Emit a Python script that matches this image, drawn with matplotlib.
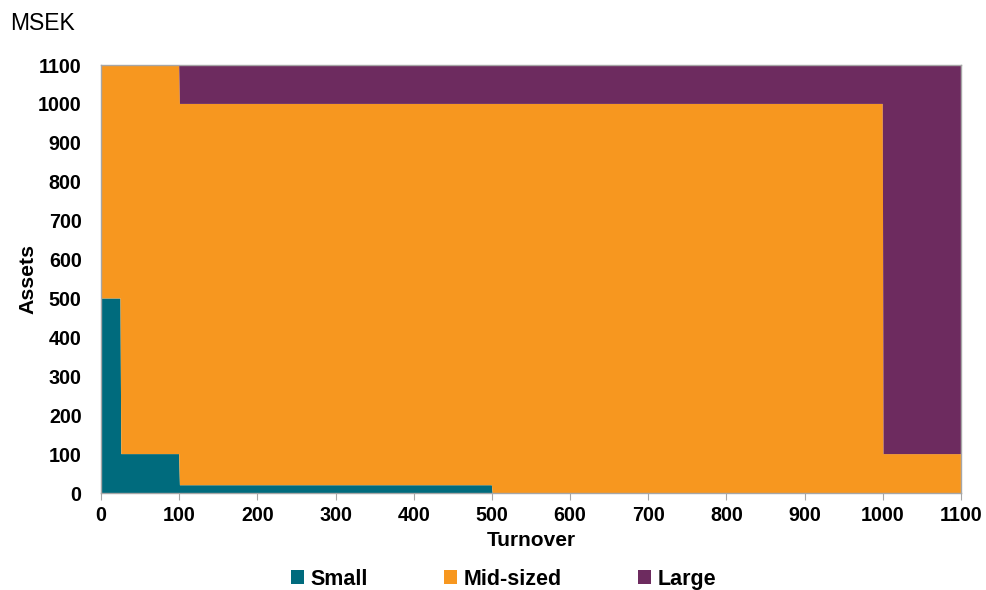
import matplotlib.pyplot as plt
from matplotlib.patches import Patch

plt.rcParams['font.family'] = ['Liberation Sans', 'DejaVu Sans']

# turnover breakpoints (MSEK) and stacked asset bands per size class
turnover = [0, 25, 26, 100, 101, 500, 501, 1000, 1001, 1100]
small = [500, 500, 100, 100, 20, 20, 0, 0, 0, 0]
mid_sized = [600, 600, 1000, 1000, 980, 980, 1000, 1000, 100, 100]
large = [0, 0, 0, 0, 100, 100, 100, 100, 1000, 1000]

labels = ['Small', 'Mid-sized', 'Large']
colors = ['#006B7D', '#F7971F', '#6D2B5F']
ticks = list(range(0, 1101, 100))

fig = plt.figure(figsize=(9.86, 5.9), dpi=100)
ax = fig.add_axes([0.1024, 0.1644, 0.8722, 0.7254])

ax.stackplot(turnover, small, mid_sized, large, colors=colors, linewidth=0)

ax.set_xlim(0, 1100)
ax.set_ylim(0, 1100)
ax.set_xticks(ticks)
ax.set_yticks(ticks)
for lab in ax.get_xticklabels() + ax.get_yticklabels():
    lab.set_fontweight('bold')
    lab.set_fontsize(14.2)
ax.tick_params(axis='x', length=5, color='#A6A6A6', pad=4)
ax.tick_params(axis='y', length=0, pad=14)
for s in ax.spines.values():
    s.set_color('#A6A6A6')
    s.set_linewidth(1)

ax.set_xlabel('Turnover', fontsize=15, fontweight='bold', labelpad=5)
ax.set_ylabel('Assets', fontsize=15.3, fontweight='bold', labelpad=0)

fig.text(0.01, 0.961, 'MSEK', fontsize=16.5, va='center', ha='left')

handles = [Patch(facecolor=c, edgecolor='none') for c in colors]
fig.legend(handles, labels, loc='center', bbox_to_anchor=(0.511, 0.018), ncol=3,
           frameon=False, prop={'weight': 'bold', 'size': 15.5},
           handlelength=0.6, handleheight=0.6, handletextpad=0.3,
           columnspacing=3.55)

fig.savefig('out.png', dpi=100)
